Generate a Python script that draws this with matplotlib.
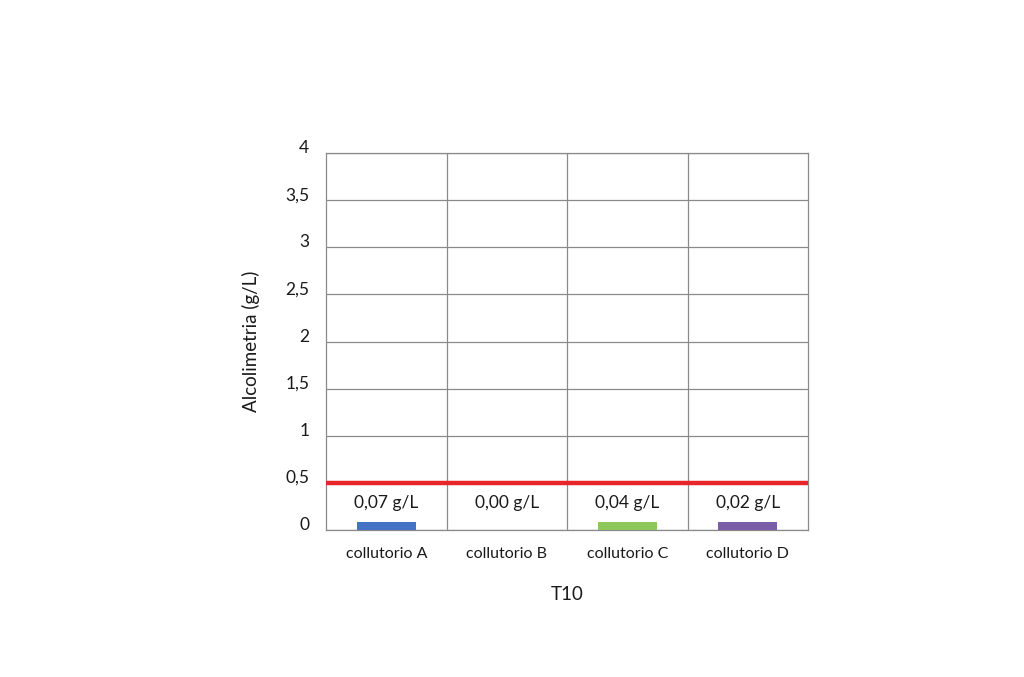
import matplotlib.pyplot as plt
import numpy as np

categories = ['collutorio A', 'collutorio B', 'collutorio C', 'collutorio D']
values = [0.07, 0.00, 0.04, 0.02]          # printed values (g/L)
bar_heights = [0.08, 0.0, 0.08, 0.08]      # bar heights as drawn in the picture
bar_colors = ['#4472c4', '#ffffff', '#8cc85a', '#7b5ea8']
threshold = 0.5
y_ticks = [0, 0.5, 1, 1.5, 2, 2.5, 3, 3.5, 4]

plt.rcParams['font.family'] = ['Lato', 'DejaVu Sans']

fig = plt.figure(figsize=(10.24, 6.77), dpi=100)
ax = fig.add_axes([0.3184, 0.2171, 0.4707, 0.5569])

x = np.arange(len(categories))
ax.bar(x, bar_heights, width=0.49, color=bar_colors, zorder=3)
ax.axhline(threshold, color='#e8262a', lw=3.2, zorder=4)

for xi, v in zip(x, values):
    ax.text(xi, 0.29, ('%.2f g/L' % v).replace('.', ','), ha='center', va='center',
            fontsize=12.5, color='#1a1a1a', zorder=5)

ax.set_xlim(-0.5, len(categories) - 0.5)
ax.set_ylim(0, 4)
ax.set_yticks(y_ticks)
ax.set_yticklabels([('%g' % t).replace('.', ',') for t in y_ticks], fontsize=12.5)
for lbl in ax.get_yticklabels():
    lbl.set_verticalalignment('baseline')
ax.set_xticks(x)
ax.set_xticklabels(categories, fontsize=11.5)

# category separators and horizontal grid
for b in x[:-1] + 0.5:
    ax.axvline(b, color='#8a8a8a', lw=0.9, zorder=1)
ax.yaxis.grid(True, color='#8a8a8a', lw=0.9, zorder=1)
ax.set_axisbelow(True)

ax.tick_params(axis='both', length=0, colors='#1a1a1a')
ax.tick_params(axis='y', pad=12)
ax.tick_params(axis='x', pad=12)
for s in ax.spines.values():
    s.set_color('#8a8a8a')
    s.set_linewidth(0.9)

ax.set_ylabel('Alcolimetria (g/L)', fontsize=13.5, labelpad=18, color='#1a1a1a')
ax.set_xlabel('T10', fontsize=13.5, labelpad=18, color='#1a1a1a')

fig.savefig('out.png', dpi=100)
